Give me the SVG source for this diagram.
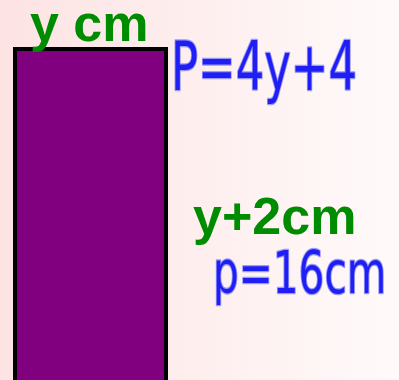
<svg xmlns="http://www.w3.org/2000/svg" width="399" height="380" viewBox="0 0 399 380">
<defs>
<linearGradient id="bg" x1="0" y1="0" x2="1" y2="0">
<stop offset="0" stop-color="#fde3e3"/>
<stop offset="1" stop-color="#fffafa"/>
</linearGradient>
<style>
.lbl{font-family:"Liberation Sans",Arial,sans-serif;font-weight:bold;font-size:52px;fill:#008c00}
.hand{font-family:"DejaVu Sans","Liberation Sans",sans-serif;font-weight:normal;fill:#1f1ff5;stroke:#9a9af8;stroke-width:2.5;paint-order:stroke;stroke-linejoin:round}
</style>
</defs>
<rect width="399" height="380" fill="url(#bg)"/>
<g id="rectangle">
<rect x="15" y="49" width="151" height="340" fill="#800080" stroke="#000" stroke-width="4"/>
</g>
<g id="label-width">
<text class="lbl" x="30" y="41">y cm</text>
</g>
<g id="label-length">
<text class="lbl" x="193" y="234">y+2cm</text>
</g>
<g id="note-perimeter-expr">
<text class="hand" font-size="68" transform="translate(171,90) scale(0.66,1)">P=4y+4</text>
</g>
<g id="note-perimeter-value">
<text class="hand" font-size="58" transform="translate(213,293) scale(0.7,1)">p=16cm</text>
</g>
</svg>
